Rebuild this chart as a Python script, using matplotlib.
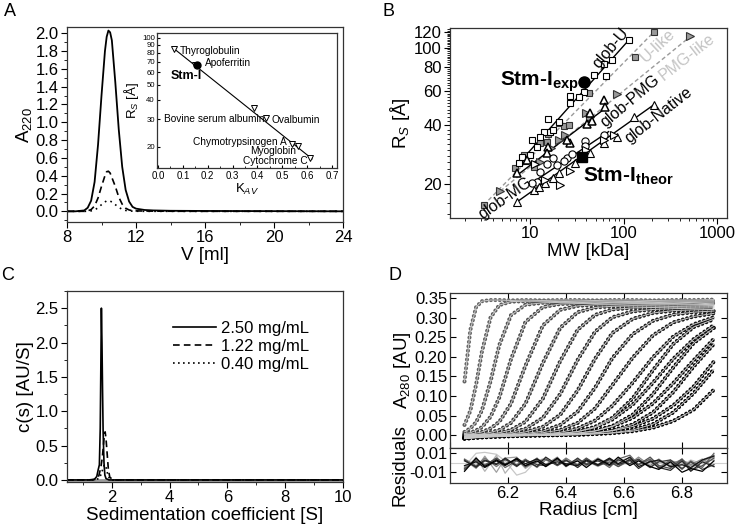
import matplotlib
matplotlib.use('Agg')
import numpy as np
import matplotlib.pyplot as plt
from matplotlib.ticker import MultipleLocator, FixedLocator, FixedFormatter, NullFormatter, NullLocator, LogLocator, FormatStrFormatter

plt.rcParams['font.family'] = ['Liberation Sans', 'DejaVu Sans']
plt.rcParams['axes.unicode_minus'] = False
plt.rcParams['mathtext.fontset'] = 'custom'
plt.rcParams['mathtext.rm'] = 'Liberation Sans'
plt.rcParams['mathtext.it'] = 'Liberation Sans:italic'
plt.rcParams['mathtext.bf'] = 'Liberation Sans:bold'

# ---------------- Panel A data (SEC elution) ----------------
V_ml = [8.0, 8.5, 9.0, 9.2, 9.4, 9.6, 9.8, 10.0, 10.2, 10.3, 10.4, 10.5, 10.6, 10.8, 11.0,
        11.2, 11.4, 11.6, 11.8, 12.0, 12.5, 13.0, 14.0, 16.0, 20.0, 24.0]
A220_high = [0.0, 0.0, 0.01, 0.04, 0.12, 0.33, 0.75, 1.30, 1.80, 1.96, 2.03, 2.01, 1.92, 1.45, 0.92,
             0.50, 0.24, 0.11, 0.05, 0.03, 0.015, 0.01, 0.006, 0.004, 0.002, 0.0]
A220_mid = [0.0, 0.0, 0.0, 0.005, 0.02, 0.06, 0.15, 0.28, 0.40, 0.445, 0.45, 0.43, 0.38, 0.28, 0.16,
            0.08, 0.035, 0.015, 0.008, 0.005, 0.003, 0.002, 0.001, 0.0, 0.0, 0.0]
A220_low = [0.0, 0.0, 0.0, 0.0, 0.005, 0.015, 0.04, 0.075, 0.105, 0.117, 0.12, 0.115, 0.105, 0.075, 0.045,
            0.022, 0.01, 0.004, 0.002, 0.001, 0.0, 0.0, 0.0, 0.0, 0.0, 0.0]

# inset calibration
std_names = ['Thyroglobulin', 'Apoferritin', 'Bovine serum albumin', 'Ovalbumin',
             'Chymotrypsinogen A', 'Myoglobin', 'Cytochrome C']
std_kav = [0.065, 0.150, 0.388, 0.436, 0.540, 0.564, 0.613]
std_rs = [85.0, 67.0, 35.5, 30.5, 20.9, 20.2, 16.9]
std_label_kav = [0.088, 0.187, 0.0225, 0.458, 0.518, 0.557, 0.603]
std_label_rs = [82.3, 68.3, 30.3, 29.5, 21.3, 18.7, 16.3]
std_label_ha = ['left', 'left', 'left', 'left', 'right', 'right', 'right']
calib_kav = [0.06, 0.62]
calib_rs = [86.0, 16.7]
stm_kav = [0.155]
stm_rs = [66.5]

# ---------------- Panel B data ----------------
U_mw = [115, 75, 61, 64.7, 47.7, 37.3, 33, 26.4, 26.4, 15.3, 16.4, 13.9, 10.4, 10.0, 7.5, 12.8, 11.8, 8.1, 20.5, 17.5]
U_rs = [108.8, 85.9, 82.2, 71.6, 72, 59.5, 56.1, 56.5, 51.9, 42.9, 37.1, 37.1, 33.6, 28.2, 25.5, 35, 31.1, 27.6, 41.5, 38]
Ulike_mw = [210, 133, 42.2, 20.1, 22.8, 15.3, 12.8, 15.1, 8.48, 8.8, 10.9, 6.9, 3.16, 26]
Ulike_rs = [120, 90, 58.4, 40.9, 39.7, 36.0, 32.3, 33.0, 28.2, 26.4, 24.5, 24.1, 15.6, 40]
PMGlike_mw = [519, 84.8, 39.5, 43.5, 20.1, 12.8, 4.77, 16.5, 23.5]
PMGlike_rs = [114, 57.9, 46.5, 44.3, 33.6, 25.8, 18.4, 30.5, 35.5]
PMG_mw = [61, 63.6, 43.9, 40.3, 26.8, 24.6, 15.6, 15.1, 9.2, 7.2, 46]
PMG_rs = [54, 49.5, 46, 40.5, 32.5, 33.6, 31.1, 28.7, 26.6, 22.7, 42]
MG_mw = [38.8, 38.8, 24.6, 61, 17.3, 15.1, 19.3, 12.8, 11.8, 22.8, 10.5, 28]
MG_rs = [33.4, 31.3, 27.1, 35.7, 27.1, 25.2, 25.0, 23.0, 20.5, 26.2, 20.3, 28.5]
Nat_mw = [7.2, 10.9, 12.3, 14.5, 17.3, 20.1, 43.9, 61, 128, 210, 84.8, 30]
Nat_rs = [16.2, 18.6, 19.4, 20.2, 21.4, 22.7, 29, 32.5, 44.3, 50.9, 34.8, 25.5]
Nat2_mw = [20.9, 61, 78, 11.3, 26.8, 14.5, 40]
Nat2_rs = [19.8, 33.6, 35.8, 25.2, 23.4, 21, 30]
stm_exp = (37.3, 67.0)
stm_theor = (35.8, 27.4)

fit_names = ['glob-U', 'U-like', 'PMG-like', 'glob-PMG', 'glob-MG', 'glob-Native']
fit_mw = [[7.5, 113], [3.16, 210], [4.77, 519], [7.5, 64], [10.8, 69], [7.2, 210]]
fit_rs = [[25.5, 109], [15.6, 120], [18.4, 114], [22.5, 49], [20.5, 37.1], [16.2, 50.9]]
fit_label_mw = [72, 230, 482, 118, 5.4, 236]
fit_label_rs = [99.6, 102, 89.6, 53.3, 17.0, 45.2]
fit_label_rot = [50, 43, 38, 40, 35, 38]

# ---------------- Panel C data (c(s)) ----------------
s_250 = [0.45, 1.20, 1.40, 1.48, 1.53, 1.57, 1.60, 1.62, 1.64, 1.66, 1.68, 1.70, 1.73, 1.76, 1.80, 1.90, 3.0, 10.0]
c_250 = [0.0, 0.0, 0.01, 0.05, 0.15, 0.22, 0.75, 1.60, 2.50, 2.00, 1.30, 0.70, 0.25, 0.07, 0.02, 0.0, 0.0, 0.0]
s_122 = [0.45, 1.30, 1.45, 1.55, 1.62, 1.67, 1.71, 1.74, 1.77, 1.80, 1.84, 1.88, 1.93, 2.05, 3.0, 10.0]
c_122 = [0.0, 0.0, 0.01, 0.06, 0.18, 0.32, 0.50, 0.65, 0.70, 0.60, 0.38, 0.16, 0.04, 0.0, 0.0, 0.0]
s_040 = [0.45, 1.40, 1.55, 1.63, 1.69, 1.73, 1.77, 1.81, 1.86, 1.92, 2.02, 10.0]
c_040 = [0.0, 0.0, 0.02, 0.08, 0.16, 0.21, 0.22, 0.17, 0.08, 0.02, 0.0, 0.0]
conc_labels = ['2.50 mg/mL', '1.22 mg/mL', '0.40 mg/mL']

# ---------------- Panel D data (SV scans) ----------------
radius = [6.05, 6.07, 6.09, 6.11, 6.14, 6.17, 6.21, 6.26, 6.32, 6.38, 6.44, 6.50, 6.56, 6.63, 6.70, 6.77, 6.84, 6.91]
scan01 = [0.137, 0.268, 0.327, 0.342, 0.345, 0.345, 0.344, 0.345, 0.344, 0.345, 0.345, 0.344, 0.345, 0.345, 0.344, 0.345, 0.345, 0.346]
scan02 = [0.026, 0.062, 0.129, 0.213, 0.301, 0.332, 0.341, 0.342, 0.342, 0.341, 0.342, 0.342, 0.342, 0.341, 0.342, 0.342, 0.342, 0.343]
scan03 = [0.008, 0.017, 0.033, 0.063, 0.138, 0.230, 0.306, 0.333, 0.338, 0.339, 0.339, 0.338, 0.339, 0.339, 0.339, 0.338, 0.339, 0.340]
scan04 = [0.004, 0.006, 0.012, 0.020, 0.047, 0.096, 0.193, 0.289, 0.327, 0.335, 0.336, 0.336, 0.335, 0.336, 0.336, 0.336, 0.335, 0.337]
scan05 = [0.002, 0.003, 0.005, 0.008, 0.017, 0.034, 0.080, 0.177, 0.280, 0.320, 0.330, 0.333, 0.333, 0.332, 0.333, 0.333, 0.333, 0.334]
scan06 = [0.001, 0.001, 0.002, 0.003, 0.007, 0.013, 0.031, 0.080, 0.184, 0.274, 0.314, 0.326, 0.329, 0.330, 0.330, 0.329, 0.330, 0.331]
scan07 = [0.000, 0.001, 0.001, 0.002, 0.003, 0.006, 0.013, 0.034, 0.093, 0.189, 0.269, 0.307, 0.321, 0.325, 0.326, 0.327, 0.327, 0.328]
scan08 = [-0.002, 0.000, 0.001, 0.001, 0.002, 0.003, 0.006, 0.016, 0.044, 0.105, 0.192, 0.264, 0.301, 0.316, 0.321, 0.323, 0.324, 0.325]
scan09 = [-0.003, -0.001, 0.000, 0.001, 0.001, 0.002, 0.003, 0.008, 0.021, 0.052, 0.114, 0.195, 0.261, 0.297, 0.312, 0.318, 0.320, 0.321]
scan10 = [-0.004, -0.002, 0.000, 0.000, 0.000, 0.001, 0.002, 0.004, 0.010, 0.026, 0.060, 0.121, 0.197, 0.258, 0.292, 0.308, 0.314, 0.317]
scan11 = [-0.005, -0.003, -0.001, 0.000, 0.000, 0.000, 0.001, 0.002, 0.006, 0.013, 0.031, 0.068, 0.128, 0.198, 0.255, 0.288, 0.303, 0.311]
scan12 = [-0.006, -0.004, -0.002, -0.001, 0.000, 0.000, 0.000, 0.001, 0.003, 0.007, 0.017, 0.037, 0.075, 0.134, 0.199, 0.252, 0.283, 0.301]
scan13 = [-0.007, -0.006, -0.004, -0.003, -0.002, -0.001, 0.000, 0.001, 0.002, 0.004, 0.009, 0.021, 0.044, 0.094, 0.166, 0.233, 0.276, 0.296]
scan14 = [-0.007, -0.005, -0.003, -0.002, -0.001, 0.000, 0.000, 0.001, 0.002, 0.004, 0.009, 0.019, 0.040, 0.078, 0.134, 0.195, 0.245, 0.281]
scan15 = [-0.008, -0.006, -0.005, -0.004, -0.003, -0.002, -0.001, 0.000, 0.001, 0.002, 0.005, 0.011, 0.023, 0.052, 0.105, 0.173, 0.235, 0.274]
scan16 = [-0.008, -0.006, -0.004, -0.003, -0.002, -0.001, 0.000, 0.000, 0.001, 0.002, 0.005, 0.010, 0.022, 0.044, 0.081, 0.133, 0.191, 0.246]
scan17 = [-0.008, -0.007, -0.006, -0.005, -0.004, -0.003, -0.002, -0.001, 0.000, 0.001, 0.003, 0.006, 0.012, 0.027, 0.058, 0.110, 0.175, 0.233]
scan18 = [-0.008, -0.007, -0.005, -0.004, -0.003, -0.002, -0.001, 0.000, 0.000, 0.001, 0.003, 0.005, 0.011, 0.022, 0.042, 0.076, 0.124, 0.188]
scan19 = [-0.009, -0.008, -0.007, -0.006, -0.005, -0.004, -0.003, -0.002, -0.001, 0.000, 0.001, 0.003, 0.006, 0.013, 0.028, 0.058, 0.107, 0.168]
scan20 = [-0.009, -0.008, -0.006, -0.005, -0.004, -0.003, -0.002, -0.001, 0.000, 0.000, 0.001, 0.003, 0.005, 0.010, 0.019, 0.036, 0.065, 0.116]
scans = [scan01, scan02, scan03, scan04, scan05, scan06, scan07, scan08, scan09, scan10,
         scan11, scan12, scan13, scan14, scan15, scan16, scan17, scan18, scan19, scan20]

res_radius = [6.05, 6.09, 6.12, 6.16, 6.19, 6.23, 6.26, 6.30, 6.33, 6.37, 6.40, 6.44, 6.47,
              6.51, 6.55, 6.58, 6.62, 6.65, 6.69, 6.72, 6.76, 6.80, 6.83, 6.87, 6.91]
# residuals in units of 0.001 AU
res1 = [-4, 10, 11, 9, 2, -13, -10, 3, -2, 4, -1, 3, -3, 2, 0, -2, 3, -2, 4, -1, 2, -3, 3, -1, 4]
res2 = [-8, 6, -9, 8, -11, 4, -6, 2, 5, -3, 4, -2, 2, -4, 3, 1, -2, 3, -3, 2, -1, 3, -2, 1, 3]
res3 = [3, -6, 7, -10, 5, 6, -4, 4, -2, 5, -3, 2, -1, 4, -3, 2, 5, -2, 3, -4, 2, 0, -3, 2, 6]
res4 = [-5, 4, -3, 5, -2, 3, -5, 4, -2, 6, -4, 3, -3, 5, -2, 4, -1, 6, -3, 4, -5, 3, -2, 4, -4]
res5 = [4, -3, 5, -4, 3, -2, 4, -5, 3, -2, 5, -3, 4, -2, 3, -4, 2, 3, -5, 2, -3, 4, -6, 3, 8]
res6 = [-7, 3, -2, 4, -5, 2, -3, 5, -4, 3, -2, 4, -1, 3, -5, 4, 8, -2, 4, -6, 3, -7, 2, -5, 10]
res7 = [-6, 2, -3, 5, -1, 3, -4, 1, 4, -3, 2, -2, 5, -3, 1, -4, 4, -2, 6, -3, -6, 4, -8, -3, 5]
res8 = [3, -5, 2, -1, 4, -4, 3, -2, -3, 4, -4, 5, -2, 2, -3, 3, -1, 4, -5, 1, 3, -6, 1, -7, -2]
res9 = [2, -4, 3, -2, 5, -3, 2, -4, 6, -2, 3, -5, 2, -3, 4, -2, 3, -6, 2, -5, -8, 2, -9, 1, -4]
res10 = [-3, 1, -5, 2, -3, 5, -1, 4, -2, 1, -1, -3, 3, -2, 5, -1, 6, -4, 1, 3, -4, -2, -5, 3, 7]
res11 = [-9, 5, -4, 3, -2, 4, -3, 2, -4, 5, -3, 2, -5, 4, -2, 6, -3, 2, -4, -7, 1, -10, -6, -9, 2]
residuals = [res1, res2, res3, res4, res5, res6, res7, res8, res9, res10, res11]

# ---------------- layout ----------------
W, H = 737, 527
fig = plt.figure(figsize=(W / 100, H / 100), dpi=100)


def box(l, t, r, b):
    return [l / W, 1 - b / H, (r - l) / W, (b - t) / H]


axA = fig.add_axes(box(67, 27, 343, 222))
axI = fig.add_axes(box(157, 33, 337, 168))
axB = fig.add_axes(box(450, 28, 727, 218))
axC = fig.add_axes(box(67, 291, 343, 482))
axD = fig.add_axes(box(450, 293, 727, 448))
axR = fig.add_axes(box(450, 448, 727, 483))

TICK = 12
LAB = 13.5
for ax in (axA, axB, axC, axD, axR, axI):
    for sp in ax.spines.values():
        sp.set_linewidth(0.9)
        sp.set_color('#333333')

# ---------------- Panel A ----------------
axA.plot(V_ml, A220_high, color='k', lw=1.3)
axA.plot(V_ml, A220_mid, color='k', lw=1.2, ls=(0, (4, 2.5)))
axA.plot(V_ml, A220_low, color='k', lw=1.2, ls=(0, (1, 2.5)))
axA.set_xlim(8, 24)
axA.set_ylim(-0.12, 2.07)
axA.xaxis.set_major_locator(FixedLocator([8, 12, 16, 20, 24]))
axA.xaxis.set_minor_locator(MultipleLocator(2))
axA.yaxis.set_major_locator(MultipleLocator(0.2))
axA.yaxis.set_minor_locator(MultipleLocator(0.1))
axA.yaxis.set_major_formatter(FormatStrFormatter('%.1f'))
axA.tick_params(which='both', direction='out', top=False, right=False, labelsize=TICK, pad=2)
axA.tick_params(which='major', length=4)
axA.tick_params(which='minor', length=2)
axA.set_xlabel('V [ml]', fontsize=LAB, labelpad=1)
axA.set_ylabel('A$_{220}$', fontsize=LAB, labelpad=1)

# inset
axI.set_yscale('log')
axI.plot(calib_kav, calib_rs, color='k', lw=0.8)
axI.plot(std_kav, std_rs, ls='none', marker='v', ms=5, mfc='white', mec='k', mew=0.7)
axI.plot(stm_kav, stm_rs, ls='none', marker='o', ms=5, color='k')
for n, x, y, ha in zip(std_names, std_label_kav, std_label_rs, std_label_ha):
    axI.text(x, y, n, fontsize=7.3, ha=ha, va='center')
axI.text(0.049, 57.1, 'Stm-I', fontsize=9, fontweight='bold', ha='left', va='center')
axI.set_xlim(-0.004, 0.72)
axI.set_ylim(14.6, 107)
axI.xaxis.set_major_locator(MultipleLocator(0.1))
axI.xaxis.set_minor_locator(MultipleLocator(0.05))
axI.xaxis.set_major_formatter(FormatStrFormatter('%.1f'))
axI.yaxis.set_major_locator(FixedLocator([20, 30, 40, 50, 60, 70, 80, 90, 100]))
axI.yaxis.set_major_formatter(FixedFormatter(['20', '30', '40', '50', '60', '70', '80', '90', '100']))
axI.yaxis.set_minor_locator(NullLocator())
axI.tick_params(axis='x', which='both', direction='in', labelsize=7, pad=2)
axI.tick_params(axis='y', which='both', direction='in', labelsize=5.6, pad=1.5)
axI.tick_params(which='major', length=2.5)
axI.tick_params(which='minor', length=1.5)
axI.set_xlabel('K$_{AV}$', fontsize=9.5, labelpad=1)
axI.set_ylabel('R$_S$ [Å]', fontsize=9.5, labelpad=1)

# ---------------- Panel B ----------------
axB.set_xscale('log')
axB.set_yscale('log')
for i, name in enumerate(fit_names):
    if name in ('U-like', 'PMG-like'):
        axB.plot(fit_mw[i], fit_rs[i], color='#9a9a9a', lw=1.0, ls=(0, (3, 2)), zorder=1)
    else:
        axB.plot(fit_mw[i], fit_rs[i], color='k', lw=1.0, zorder=1)
ms = 5.2
axB.plot(Ulike_mw, Ulike_rs, ls='none', marker='s', ms=ms - 0.5, mfc='#9a9a9a', mec='#333333', mew=0.8, zorder=2)
axB.plot(PMGlike_mw, PMGlike_rs, ls='none', marker='>', ms=ms, mfc='#9a9a9a', mec='#333333', mew=0.8, zorder=2)
axB.plot(U_mw, U_rs, ls='none', marker='s', ms=ms - 0.5, mfc='white', mec='k', mew=0.8, zorder=3)
axB.plot(PMG_mw, PMG_rs, ls='none', marker='^', ms=ms + 0.5, mfc='white', mec='k', mew=1.1, zorder=3)
axB.plot(MG_mw, MG_rs, ls='none', marker='o', ms=ms, mfc='white', mec='k', mew=0.8, zorder=3)
axB.plot(Nat_mw, Nat_rs, ls='none', marker='^', ms=ms, mfc='white', mec='k', mew=0.8, zorder=3)
axB.plot(Nat2_mw, Nat2_rs, ls='none', marker='>', ms=ms, mfc='white', mec='k', mew=0.8, zorder=3)
axB.plot([stm_exp[0]], [stm_exp[1]], ls='none', marker='o', ms=8, color='k', zorder=4)
axB.plot([stm_theor[0]], [stm_theor[1]], ls='none', marker='s', ms=7, color='k', zorder=4)
for i, name in enumerate(fit_names):
    col = '#c4c4c4' if name in ('U-like', 'PMG-like') else 'k'
    axB.text(fit_label_mw[i], fit_label_rs[i], name, fontsize=11.5, color=col,
             rotation=fit_label_rot[i], ha='center', va='center', rotation_mode='anchor', zorder=5)
axB.text(33, 64, r'Stm-I$_{\mathbf{exp}}$', fontsize=15, fontweight='bold', ha='right', va='baseline')
axB.text(37, 20.5, r'Stm-I$_{\mathbf{theor}}$', fontsize=15, fontweight='bold', ha='left', va='baseline')
axB.set_xlim(1.38, 1280)
axB.set_ylim(13.4, 126)
axB.xaxis.set_major_locator(FixedLocator([10, 100, 1000]))
axB.xaxis.set_major_formatter(FixedFormatter(['10', '100', '1000']))
axB.xaxis.set_minor_locator(LogLocator(base=10, subs=np.arange(2, 10)))
axB.xaxis.set_minor_formatter(NullFormatter())
axB.yaxis.set_major_locator(FixedLocator([20, 40, 60, 80, 100, 120]))
axB.yaxis.set_major_formatter(FixedFormatter(['20', '40', '60', '80', '100', '120']))
axB.yaxis.set_minor_locator(FixedLocator(list(range(14, 126, 2))))
axB.yaxis.set_minor_formatter(NullFormatter())
axB.tick_params(which='both', direction='out', top=False, right=False, labelsize=TICK, pad=2)
axB.tick_params(which='major', length=4)
axB.tick_params(which='minor', length=2)
axB.set_xlabel('MW [kDa]', fontsize=LAB, labelpad=1)
axB.set_ylabel('R$_S$ [Å]', fontsize=LAB, labelpad=1)

# ---------------- Panel C ----------------
axC.plot(s_250, c_250, color='k', lw=1.2, label=conc_labels[0])
axC.plot(s_122, c_122, color='k', lw=1.2, ls=(0, (4, 2.5)), label=conc_labels[1])
axC.plot(s_040, c_040, color='k', lw=1.2, ls=(0, (1, 2)), label=conc_labels[2])
axC.axhline(0, color='#999999', lw=2.0, zorder=0)
axC.set_xlim(0.45, 10)
axC.set_ylim(-0.03, 2.75)
axC.xaxis.set_major_locator(MultipleLocator(2))
axC.xaxis.set_minor_locator(MultipleLocator(1))
axC.yaxis.set_major_locator(MultipleLocator(0.5))
axC.yaxis.set_minor_locator(MultipleLocator(0.25))
axC.yaxis.set_major_formatter(FormatStrFormatter('%.1f'))
axC.tick_params(which='both', direction='out', top=False, right=False, labelsize=TICK, pad=2)
axC.tick_params(which='major', length=4)
axC.tick_params(which='minor', length=2)
axC.set_xlabel('Sedimentation coefficient [S]', fontsize=LAB, labelpad=1)
axC.set_ylabel('c(s) [AU/S]', fontsize=LAB, labelpad=1)
axC.legend(loc='upper left', bbox_to_anchor=(0.36, 0.88), frameon=False, fontsize=12,
           handlelength=2.6, handletextpad=0.3, labelspacing=0.2, borderaxespad=0)

# ---------------- Panel D ----------------
n = len(scans)
for k, sc in enumerate(scans):
    shade = 0.4 * (1 - k / (n - 1)) ** 2
    axD.plot(radius, sc, color=(shade, shade, shade), lw=3.0, ls=(0, (0.01, 1.05)),
             dash_capstyle='round', zorder=2)
    axD.plot(radius, sc, color='#c8c8c8', lw=0.7, zorder=3)
axD.set_xlim(6.0, 6.955)
axD.set_ylim(-0.033, 0.363)
axD.yaxis.set_major_locator(MultipleLocator(0.05))
axD.yaxis.set_major_formatter(FormatStrFormatter('%.2f'))
axD.xaxis.set_major_locator(MultipleLocator(0.2))
axD.xaxis.set_major_formatter(NullFormatter())
axD.tick_params(which='both', direction='in', top=True, right=True, labelsize=TICK, length=4, pad=2)
axD.set_ylabel('A$_{280}$ [AU]', fontsize=LAB, labelpad=1)

nres = len(residuals)
for k, rr in enumerate(residuals):
    shade = 0.78 * (1 - k / (nres - 1))
    axR.plot(res_radius, np.array(rr) / 1000.0, color=(shade, shade, shade), lw=0.9)
axR.axhline(0, color='#cfcfcf', lw=0.8, zorder=0)
axR.set_xlim(6.0, 6.955)
axR.set_ylim(-0.0213, 0.0156)
axR.yaxis.set_major_locator(FixedLocator([-0.01, 0.01]))
axR.yaxis.set_major_formatter(FixedFormatter(['-0.01', '0.01']))
axR.xaxis.set_major_locator(FixedLocator([6.2, 6.4, 6.6, 6.8]))
axR.xaxis.set_major_formatter(FixedFormatter(['6.2', '6.4', '6.6', '6.8']))
axR.tick_params(which='both', direction='in', top=True, right=True, labelsize=TICK, length=4, pad=2)
axR.set_xlabel('Radius [cm]', fontsize=LAB, labelpad=1)
axR.set_ylabel('Residuals', fontsize=LAB, labelpad=1)

# panel letters
for letter, x, y in (('A', 4, 12), ('B', 382, 12), ('C', 1, 276), ('D', 388, 276)):
    fig.text(x / W, 1 - y / H, letter, fontsize=13, va='center', ha='left')

fig.savefig('out.png', dpi=100)
